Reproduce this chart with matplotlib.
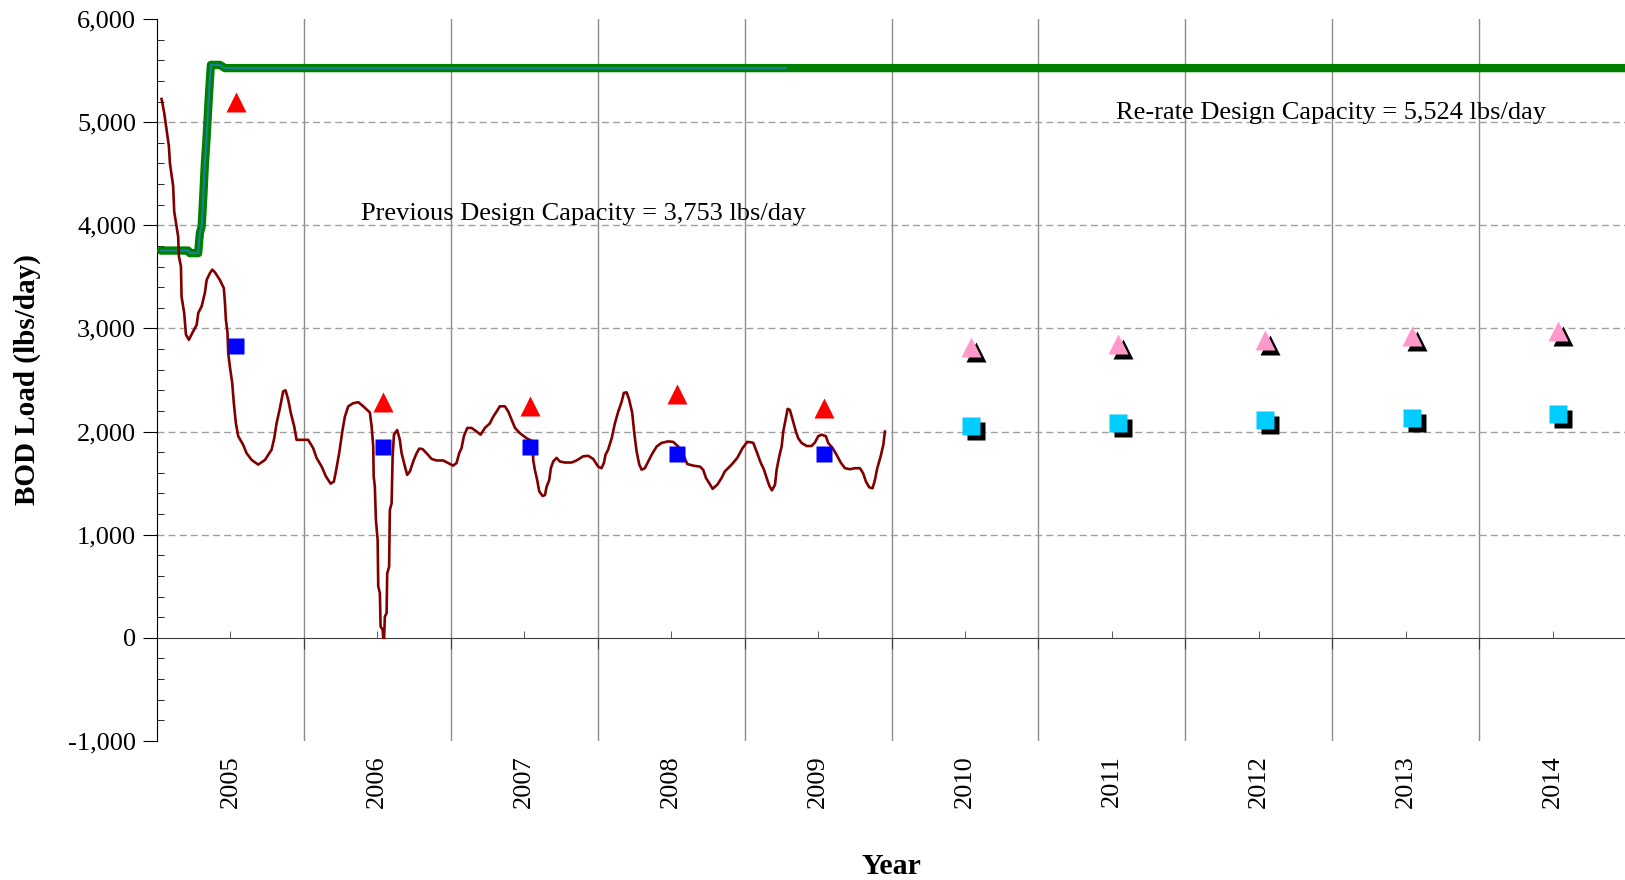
import matplotlib
matplotlib.use('Agg')
import matplotlib.pyplot as plt
from matplotlib.ticker import FixedLocator, MultipleLocator
from matplotlib.transforms import ScaledTranslation

plt.rcParams['font.family'] = ['Liberation Serif', 'DejaVu Serif']

# --- data ---
years = [2005, 2006, 2007, 2008, 2009, 2010, 2011, 2012, 2013, 2014]

# historical yearly points (red = max, blue = average)
hist_years = [2005, 2006, 2007, 2008, 2009]
hist_max = [5200, 2290, 2245, 2360, 2225]
hist_avg = [2830, 1855, 1855, 1780, 1780]

# projected yearly points
proj_years = [2010, 2011, 2012, 2013, 2014]
proj_max = [2820, 2850, 2885, 2930, 2975]
proj_avg = [2055, 2080, 2115, 2135, 2170]

# design capacity line (previous 3,753 -> re-rate 5,524)
cap_years = [2004.527, 2004.712, 2004.724, 2004.780, 2004.792, 2004.804, 2004.815,
             2004.826, 2004.838, 2004.849, 2004.860, 2004.867, 2004.928, 2004.962, 2014.49]
cap_values = [3755, 3755, 3730, 3730, 3925, 3990, 4280,
              4600, 4860, 5150, 5410, 5555, 5555, 5524, 5524]
cap_hist_end = 2008.78

# BOD load, running average
bod_years = [
    2004.531, 2004.549, 2004.565, 2004.581, 2004.588, 2004.610, 2004.617, 2004.633,
    2004.644, 2004.649, 2004.663, 2004.667, 2004.685, 2004.697, 2004.717, 2004.740,
    2004.770, 2004.781, 2004.804, 2004.826, 2004.838, 2004.860, 2004.876, 2004.894,
    2004.928, 2004.955, 2004.962, 2004.969, 2004.980, 2004.985, 2004.996, 2005.012,
    2005.023, 2005.037, 2005.053, 2005.087, 2005.110, 2005.144, 2005.189, 2005.235,
    2005.280, 2005.298, 2005.314, 2005.337, 2005.359, 2005.375, 2005.393, 2005.411,
    2005.434, 2005.450, 2005.484, 2005.529, 2005.563, 2005.586, 2005.621, 2005.650,
    2005.682, 2005.704, 2005.718, 2005.740, 2005.763, 2005.779, 2005.802, 2005.836,
    2005.870, 2005.904, 2005.949, 2005.961, 2005.972, 2005.975, 2005.983, 2005.990,
    2006.002, 2006.006, 2006.017, 2006.022, 2006.036, 2006.040, 2006.046, 2006.051,
    2006.063, 2006.067, 2006.080, 2006.085, 2006.097, 2006.104, 2006.113, 2006.135,
    2006.153, 2006.165, 2006.188, 2006.203, 2006.222, 2006.244, 2006.267, 2006.285,
    2006.308, 2006.335, 2006.369, 2006.403, 2006.448, 2006.482, 2006.516, 2006.539,
    2006.557, 2006.573, 2006.589, 2006.612, 2006.642, 2006.676, 2006.703, 2006.732,
    2006.766, 2006.789, 2006.812, 2006.834, 2006.868, 2006.891, 2006.914, 2006.937,
    2006.970, 2007.016, 2007.057, 2007.061, 2007.072, 2007.088, 2007.102, 2007.125,
    2007.141, 2007.152, 2007.170, 2007.181, 2007.197, 2007.220, 2007.242, 2007.277,
    2007.322, 2007.356, 2007.401, 2007.435, 2007.469, 2007.503, 2007.526, 2007.542,
    2007.553, 2007.571, 2007.595, 2007.617, 2007.640, 2007.663, 2007.678, 2007.697,
    2007.714, 2007.735, 2007.749, 2007.765, 2007.783, 2007.799, 2007.821, 2007.844,
    2007.867, 2007.901, 2007.935, 2007.980, 2008.014, 2008.048, 2008.082, 2008.110,
    2008.150, 2008.196, 2008.218, 2008.237, 2008.259, 2008.282, 2008.314, 2008.343,
    2008.366, 2008.412, 2008.450, 2008.486, 2008.518, 2008.547, 2008.559, 2008.582,
    2008.609, 2008.632, 2008.650, 2008.668, 2008.686, 2008.707, 2008.718, 2008.736,
    2008.752, 2008.763, 2008.779, 2008.793, 2008.808, 2008.827, 2008.849, 2008.865,
    2008.888, 2008.922, 2008.956, 2008.979, 2009.001, 2009.024, 2009.053, 2009.069,
    2009.099, 2009.126, 2009.154, 2009.183, 2009.217, 2009.251, 2009.285, 2009.307,
    2009.326, 2009.348, 2009.371, 2009.387, 2009.403, 2009.426, 2009.444, 2009.455]
bod_values = [
    5225, 5090, 4930, 4765, 4600, 4380, 4135, 3990,
    3890, 3700, 3600, 3310, 3150, 2940, 2890, 2955,
    3035, 3150, 3215, 3345, 3470, 3535, 3570, 3545,
    3470, 3390, 3260, 3085, 2955, 2760, 2630, 2470,
    2275, 2080, 1955, 1870, 1790, 1725, 1680, 1725,
    1825, 1935, 2080, 2230, 2390, 2400, 2310, 2180,
    2050, 1920, 1920, 1920, 1840, 1745, 1660, 1565,
    1495, 1515, 1615, 1790, 2015, 2145, 2245, 2275,
    2285, 2245, 2185, 2050, 1855, 1565, 1465, 1145,
    950, 500, 435, 110, 80, 0, 0, 205,
    240, 625, 690, 1240, 1305, 1760, 1970, 2015,
    1920, 1790, 1660, 1580, 1615, 1710, 1790, 1835,
    1830, 1790, 1735, 1720, 1720, 1695, 1670, 1695,
    1790, 1840, 1955, 2035, 2035, 2000, 1970, 2035,
    2080, 2145, 2195, 2245, 2245, 2195, 2115, 2035,
    1985, 1935, 1905, 1725, 1630, 1530, 1420, 1375,
    1385, 1465, 1530, 1645, 1710, 1745, 1710, 1700,
    1700, 1720, 1760, 1765, 1735, 1660, 1645, 1695,
    1775, 1825, 1935, 2080, 2195, 2290, 2375, 2380,
    2310, 2180, 1985, 1805, 1680, 1630, 1645, 1710,
    1775, 1855, 1890, 1905, 1900, 1855, 1775, 1685,
    1670, 1660, 1630, 1550, 1500, 1445, 1485, 1550,
    1615, 1680, 1745, 1840, 1900, 1895, 1890, 1805,
    1700, 1630, 1550, 1475, 1430, 1485, 1630, 1760,
    1855, 2000, 2115, 2220, 2210, 2115, 2000, 1935,
    1890, 1860, 1860, 1895, 1955, 1970, 1955, 1890,
    1840, 1775, 1700, 1645, 1635, 1645, 1645, 1595,
    1515, 1460, 1450, 1530, 1645, 1760, 1870, 2000]

y_ticks = [-1000, 0, 1000, 2000, 3000, 4000, 5000, 6000]

prev_label = 'Previous Design Capacity = 3,753 lbs/day'
rerate_label = 'Re-rate Design Capacity = 5,524 lbs/day'

# --- figure ---
fig = plt.figure(figsize=(16.25, 8.8), dpi=100)
ax = fig.add_axes([157 / 1625, 139 / 880, 1468 / 1625, 722 / 880])
ax.set_xlim(2004.5, 2014.493)
ax.set_ylim(-1000, 6000)

for s in ['top', 'right']:
    ax.spines[s].set_visible(False)
ax.spines['bottom'].set_position(('data', 0))
ax.spines['bottom'].set_color('#404040')
ax.spines['left'].set_color('black')

# x: gridlines between the years, small ticks on the years
ax.xaxis.set_major_locator(FixedLocator([y + 0.5 for y in years[:-1]]))
ax.xaxis.set_minor_locator(FixedLocator(years))
ax.tick_params(axis='x', which='major', direction='out', length=8, color='#404040',
               labelbottom=False)
ax.tick_params(axis='x', which='minor', direction='in', length=5, color='#404040',
               labelbottom=False)
ax.xaxis.grid(True, which='major', color='#8c8c8c', lw=1, ls='-')

# y axis
ax.yaxis.set_major_locator(FixedLocator(y_ticks))
ax.set_yticklabels([f'{v:,}' for v in y_ticks], fontsize=19)
ax.yaxis.set_minor_locator(MultipleLocator(200))
ax.tick_params(axis='y', which='major', direction='out', length=10, pad=5)
ax.tick_params(axis='y', which='minor', direction='in', length=5)
ax.yaxis.grid(True, which='major', color='#a0a0a0', lw=1, ls=(0, (5, 3)))
for t, v in zip(ax.yaxis.get_major_ticks(), y_ticks):
    if v in (-1000, 0, 6000):
        t.gridline.set_visible(False)
ax.set_axisbelow(True)

# year labels below the plot
sec = ax.secondary_xaxis(0.0)
sec.set_xticks(years)
sec.set_xticklabels([str(y) for y in years], rotation=90, fontsize=19)
sec.tick_params(length=0, pad=10)
sec.spines['bottom'].set_visible(False)

ax.set_xlabel('Year', fontsize=21.5, fontweight='bold', labelpad=0)
ax.xaxis.set_label_coords(0.5, -0.155)
ax.set_ylabel('BOD Load (lbs/day)', fontsize=21, fontweight='bold')
ax.yaxis.set_label_coords(-0.079, 0.5)

# --- series ---
ax.plot(cap_years, cap_values, color='#008000', lw=6, solid_capstyle='round',
        solid_joinstyle='round', zorder=3)
hist_cap_x = cap_years[:-1] + [cap_hist_end]
ax.plot(hist_cap_x, cap_values, color='#1a7f9a', lw=1.5, zorder=4)

ax.plot(bod_years, bod_values, color='#800000', lw=1.9, zorder=5)

off = 0.04
ax.plot([y + off for y in hist_years], hist_max, ls='none', marker='^', ms=14.5,
        mec='none', color='#ff0000', zorder=6)
ax.plot([y + off for y in hist_years], hist_avg, ls='none', marker='s', ms=12,
        mec='none', color='#0000ff', zorder=6)

shadow = ax.transData + ScaledTranslation(5 / 100, -5 / 100, fig.dpi_scale_trans)
px = [y + off for y in proj_years]
ax.plot(px, proj_max, ls='none', marker='^', ms=14.5, mec='none', color='black',
        transform=shadow, zorder=6)
ax.plot(px, proj_avg, ls='none', marker='s', ms=13, mec='none', color='black',
        transform=shadow, zorder=6)
ax.plot(px, proj_max, ls='none', marker='^', ms=14.5, mec='none', color='#ff99cc',
        zorder=7)
ax.plot(px, proj_avg, ls='none', marker='s', ms=13, mec='none', color='#00ccff',
        zorder=7)

ax.text(2005.886, 4110, prev_label, fontsize=19, ha='left', va='center')
ax.text(2011.028, 5090, rerate_label, fontsize=19, ha='left', va='center')

fig.savefig('out.png', dpi=100)
